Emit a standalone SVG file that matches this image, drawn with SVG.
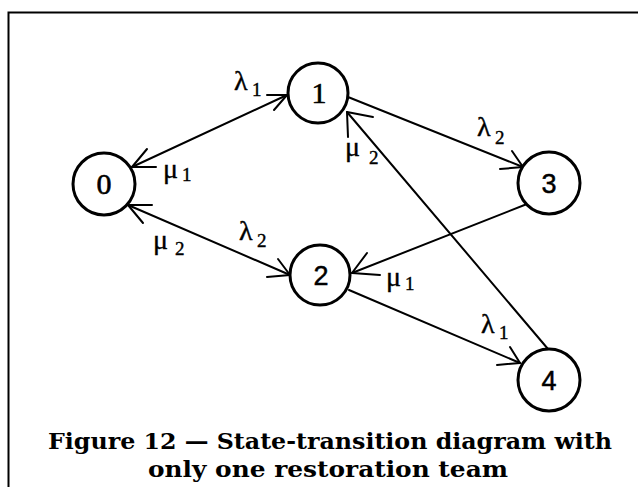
<svg xmlns="http://www.w3.org/2000/svg" width="638" height="487" viewBox="0 0 638 487">
<style>
.node{fill:#fff;stroke:#000;stroke-width:3}
.edge{fill:none;stroke:#000;stroke-width:2;stroke-linecap:round;stroke-linejoin:round}
.cap{font-family:"DejaVu Serif","Liberation Serif",serif;font-weight:bold;font-size:22px;fill:#000}
</style>
<rect x="8.5" y="12.5" width="660" height="500" fill="none" stroke="#000" stroke-width="2"/>
<g id="connectors">
<line class="edge" x1="132" y1="167" x2="287" y2="95"/>
<polyline class="edge" points="267,95 287,95 274,110"/>
<polyline class="edge" points="156,167 132,167 147,149"/>
<line class="edge" x1="128" y1="205" x2="290" y2="275"/>
<polyline class="edge" points="152,205 128,205 143,223"/>
<polyline class="edge" points="267,277 290,275 278,259"/>
<line class="edge" x1="348" y1="97" x2="523" y2="167"/>
<polyline class="edge" points="500,169 523,167 512,151"/>
<line class="edge" x1="527" y1="204" x2="352" y2="273"/>
<polyline class="edge" points="380,275 352,273 367,253"/>
<line class="edge" x1="349" y1="290" x2="520" y2="363"/>
<polyline class="edge" points="497,365 520,363 510,347"/>
<line class="edge" x1="548" y1="349" x2="347" y2="112"/>
<polyline class="edge" points="373,117 347,112 348,137"/>
<g font-family="Liberation Serif, Times New Roman, serif" fill="#000" stroke="#000" stroke-width="0.4">
<text font-size="28" x="234" y="90">λ</text><text font-size="19" x="252" y="96">1</text>
<text font-size="28" x="163" y="178">μ</text><text font-size="19" x="182" y="181">1</text>
<text font-size="28" x="153" y="249">μ</text><text font-size="19" x="175" y="255">2</text>
<text font-size="28" x="239" y="240">λ</text><text font-size="19" x="257" y="247">2</text>
<text font-size="28" x="477" y="136">λ</text><text font-size="19" x="495" y="144">2</text>
<text font-size="28" x="345" y="156">μ</text><text font-size="19" x="369" y="164">2</text>
<text font-size="28" x="386" y="286">μ</text><text font-size="19" x="405" y="290">1</text>
<text font-size="28" x="481" y="333">λ</text><text font-size="19" x="499" y="339">1</text>
</g>
</g>
<g id="node0"><circle class="node" cx="104" cy="184" r="31"/><text font-family="Liberation Serif, serif" font-size="30" stroke="#000" stroke-width="0.6" x="104" y="194" text-anchor="middle">0</text></g>
<g id="node1"><circle class="node" cx="318" cy="93" r="30"/><text font-family="Liberation Serif, serif" font-size="30" stroke="#000" stroke-width="0.6" x="319" y="103" text-anchor="middle">1</text></g>
<g id="node2"><circle class="node" cx="320" cy="275" r="30"/><text font-family="Liberation Sans, sans-serif" font-size="27" stroke="#000" stroke-width="0.5" x="321" y="285" text-anchor="middle">2</text></g>
<g id="node3"><circle class="node" cx="549" cy="183" r="31"/><text font-family="Liberation Sans, sans-serif" font-size="27" stroke="#000" stroke-width="0.5" x="549" y="193" text-anchor="middle">3</text></g>
<g id="node4"><circle class="node" cx="549" cy="380" r="31"/><text font-family="Liberation Sans, sans-serif" font-size="27" stroke="#000" stroke-width="0.5" x="549" y="390" text-anchor="middle">4</text></g>
<g id="caption">
<text class="cap" x="330" y="449" text-anchor="middle" textLength="564" lengthAdjust="spacingAndGlyphs">Figure 12 — State-transition diagram with</text>
<text class="cap" x="328" y="477" text-anchor="middle" textLength="360" lengthAdjust="spacingAndGlyphs">only one restoration team</text>
</g>
</svg>
